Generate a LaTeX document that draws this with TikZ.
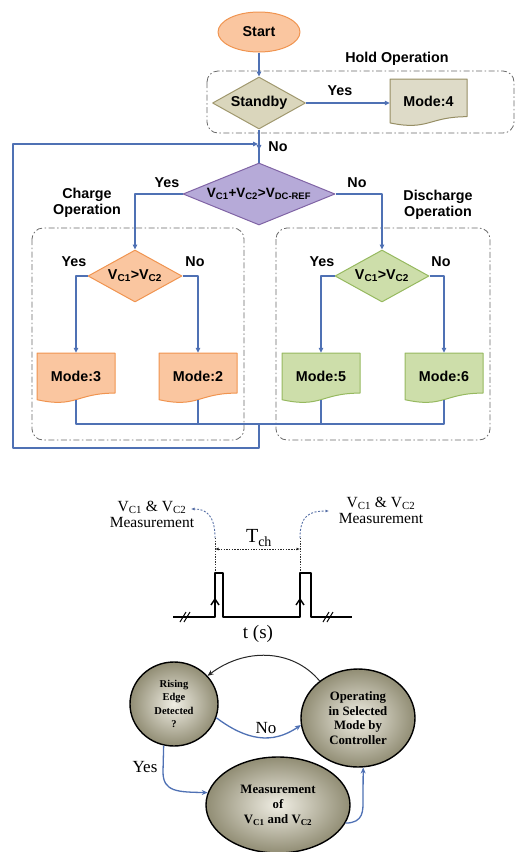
\documentclass[tikz,border=0pt]{standalone}
\usepackage{fontspec}
\setmainfont{Liberation Serif}
\newfontfamily\flowfont{Liberation Sans}
\usetikzlibrary{shapes.geometric,arrows.meta,decorations.markings,calc}

\definecolor{flow}{RGB}{79,113,180}
\definecolor{boxgray}{RGB}{105,105,105}
\definecolor{orfill}{RGB}{250,198,160}
\definecolor{ordraw}{RGB}{240,148,80}
\definecolor{grfill}{RGB}{205,222,170}
\definecolor{grdraw}{RGB}{150,185,95}
\definecolor{pufill}{RGB}{182,170,216}
\definecolor{pudraw}{RGB}{128,100,165}
\definecolor{khfill}{RGB}{218,214,188}
\definecolor{khdraw}{RGB}{160,152,110}
\definecolor{gyfill}{RGB}{222,219,200}
\definecolor{gydraw}{RGB}{150,142,100}
\definecolor{ballin}{RGB}{240,238,228}
\definecolor{ballout}{RGB}{145,141,116}
\definecolor{dashblue}{RGB}{85,110,165}

% document-shaped mode box: name, left, top, width, height, colour style, text
\newcommand{\modedoc}[7]{%
  \path[#6] (#2,#3) -- ({#2+#4},#3) -- ({#2+#4},{#3+0.802*#5})
     .. controls ({#2+0.5*#4},{#3+0.802*#5}) and ({#2+0.5*#4},{#3+1.107*#5})
     .. (#2,{#3+0.934*#5}) -- cycle;
  \node[doctext, minimum width=#4pt, minimum height={0.94*#5pt}]
     (#1) at ({#2+0.5*#4},{#3+0.47*#5}) {#7};
}

\tikzset{
  ftext/.style={font=\flowfont\bfseries\fontsize{14.3}{16}\selectfont},
  lbl/.style={ftext, inner sep=0pt},
  doctext/.style={ftext, inner sep=0pt},
  dia/.style={diamond, ftext, inner sep=0pt, line width=1pt},
  flowline/.style={draw=flow, line width=1.2pt},
  tip/.tip={Triangle[length=5pt,width=4.5pt]},
  opbox/.style={draw=boxgray, line width=0.8pt, rounded corners=11pt,
    dash pattern=on 6pt off 2.5pt on 1.5pt off 2.5pt},
  orangedoc/.style={fill=orfill, draw=ordraw, line width=1pt},
  greendoc/.style={fill=grfill, draw=grdraw, line width=1pt},
  graydoc/.style={fill=gyfill, draw=gydraw, line width=1pt},
  midarrow/.style={postaction={decorate, decoration={markings,
    mark=at position 0.62 with {\arrow{tip}}}}},
  serifA/.style={font=\fontsize{15.5}{16}\selectfont, inner sep=0pt, align=center},
  state/.style={ellipse, draw=black, line width=1.4pt, inner sep=0pt,
    inner color=ballin, outer color=ballout, align=center, font=\bfseries},
  stateline/.style={draw=flow, line width=1.3pt, -{Stealth[length=6pt,width=5pt]}},
}

\begin{document}
\begin{tikzpicture}[x=1pt, y=-1pt, line join=round]
\useasboundingbox (0,0) rectangle (517,852);

% ---------------- operation groups ----------------
\draw[opbox] (207,71) rectangle (514,133);
\draw[opbox] (32,228) rectangle (244,440);
\draw[opbox] (276,228) rectangle (490,440);
\node[lbl] (holdlbl) at (397,59) {Hold Operation};
\node[lbl, align=center] (chglbl) at (87,203) {Charge\\Operation};
\node[lbl, align=center] (dchlbl) at (438,205) {Discharge\\Operation};

% ---------------- flowchart nodes ----------------
\node[ellipse, ftext, inner sep=0pt, minimum width=82pt, minimum height=40pt,
      fill=orfill, draw=ordraw, line width=1pt] (start) at (259,32) {Start};
\node[dia, fill=khfill, draw=khdraw, minimum width=93pt, minimum height=52pt,
      shape aspect=1.8] (sb) at (259,103) {Standby};
\modedoc{m4}{390}{79}{77}{47}{graydoc}{Mode:4}

\node[dia, fill=pufill, draw=pudraw, minimum width=152pt, minimum height=62pt,
      shape aspect=2.45, font=\flowfont\bfseries\fontsize{13.5}{15}\selectfont] (dv) at (259,194)
      {V\textsubscript{C1}+V\textsubscript{C2}>V\textsubscript{DC-REF}};

\node[dia, fill=orfill, draw=ordraw, minimum width=94pt, minimum height=52pt,
      shape aspect=1.8] (d1) at (135,276) {V\textsubscript{C1}>V\textsubscript{C2}};
\node[dia, fill=grfill, draw=grdraw, minimum width=94pt, minimum height=52pt,
      shape aspect=1.8] (d2) at (382,276) {V\textsubscript{C1}>V\textsubscript{C2}};

\modedoc{m3}{37}{353}{78}{50}{orangedoc}{Mode:3}
\modedoc{m2}{159}{353}{78}{50}{orangedoc}{Mode:2}
\modedoc{m5}{282}{353}{78}{50}{greendoc}{Mode:5}
\modedoc{m6}{405}{353}{78}{50}{greendoc}{Mode:6}

% ---------------- flowchart connectors ----------------
\coordinate (jn) at (259,144);
\coordinate (bus) at (259,424);
\coordinate (lp) at (13,448);

\draw[flowline, -tip] (start.south) -- (sb.north);
\draw[flowline, -tip] (sb.east) -- (sb.east -| m4.west);
\draw[flowline, midarrow] (sb.south) -- (dv.north);
\draw[flowline, -tip] (dv.west) -| (d1.north);
\draw[flowline, -tip] (dv.east) -| (d2.north);
\draw[flowline, -tip] (d1.west) -| (m3.north);
\draw[flowline, -tip] (d1.east) -| (m2.north);
\draw[flowline, -tip] (d2.west) -| (m5.north);
\draw[flowline, -tip] (d2.east) -| (m6.north);
\draw[flowline] (m3.south) -- (m3.south |- bus) -- (m6.south |- bus) -- (m6.south);
\draw[flowline] (m2.south) -- (m2.south |- bus);
\draw[flowline] (m5.south) -- (m5.south |- bus);
\draw[flowline, -tip] (bus) |- (lp) |- ([xshift=-1pt]jn);

% branch labels
\node[lbl] (ysb) at (340,91) {Yes};
\node[lbl] (nsb) at (278,147) {No};
\node[lbl] (ydv) at (167,183) {Yes};
\node[lbl] (ndv) at (357,183) {No};
\node[lbl] (yd1) at (74,262) {Yes};
\node[lbl] (nd1) at (195,262) {No};
\node[lbl] (yd2) at (322,262) {Yes};
\node[lbl] (nd2) at (441,262) {No};

% ---------------- sampling pulse train ----------------
\node[serifA] (lmeas) at (152,514.5) {V\textsubscript{C1} \& V\textsubscript{C2}\\Measurement};
\node[serifA] (rmeas) at (381,510) {V\textsubscript{C1} \& V\textsubscript{C2}\\Measurement};
\node[inner sep=0pt, font=\fontsize{20}{21}\selectfont] (tch) at (259,538) {T\textsubscript{ch}};
\node[inner sep=0pt, font=\fontsize{19}{20}\selectfont] (ts) at (258,634) {t (s)};

\coordinate (lt) at (191,509);
\coordinate (rt) at (329,511);
\coordinate (la) at (215,538);
\coordinate (ra) at (300,538);

\draw[dashblue, line width=0.9pt, dash pattern=on 2pt off 1.6pt,
      -{Latex[length=3.5pt,width=3pt]}] (la) .. controls (215,515) and (206,509) .. (lt);
\draw[dashblue, line width=0.9pt, dash pattern=on 2pt off 1.6pt,
      -{Latex[length=3.5pt,width=3pt]}] (ra) .. controls (300,515) and (310,511) .. (rt);
\draw[black!80, line width=0.9pt, dash pattern=on 1.3pt off 1.3pt] (la) -- (215,572);
\draw[black!80, line width=0.9pt, dash pattern=on 1.3pt off 1.3pt] (ra) -- (300,572);
\draw[black!85, line width=0.9pt, dash pattern=on 1.5pt off 1.2pt,
      {Latex[length=3.5pt,width=3pt]}-{Latex[length=3.5pt,width=3pt]}] (215,549) -- (300,549);

\draw[black, line width=1.6pt] (173,617) -- (215,617) -- (215,573) -- (223,573)
   -- (223,617) -- (300,617) -- (300,573) -- (311,573) -- (311,617) -- (352,617);
% rising-edge markers
\draw[black, line width=1.4pt] (211,605) -- (215,599) -- (219,605);
\draw[black, line width=1.4pt] (296,605) -- (300,599) -- (304,605);
% axis breaks
\draw[black, line width=1pt] (180,622) -- (186,612) (184,622) -- (190,612);
\draw[black, line width=1pt] (323,622) -- (329,612) (327,622) -- (333,612);

% ---------------- controller state loop ----------------
\node[state, minimum width=88pt, minimum height=84pt,
      font=\bfseries\fontsize{10.5}{13.5}\selectfont] (rise) at (174,704)
      {Rising\\Edge\\Detected\\?};
\node[state, minimum width=114pt, minimum height=98pt,
      font=\bfseries\fontsize{12.8}{14.5}\selectfont] (oper) at (358,718)
      {Operating\\in Selected\\Mode by\\Controller};
\node[state, minimum width=144pt, minimum height=96pt,
      font=\bfseries\fontsize{12.8}{15}\selectfont] (meas) at (278,805)
      {Measurement\\of\\V\textsubscript{C1} and V\textsubscript{C2}};

\draw[black!85, line width=1pt, -{Stealth[length=6pt,width=5pt]}]
   (oper.136) .. controls (292,648) and (244,648) .. (rise.40);
\draw[stateline] (rise.-18) .. controls (246,740) and (272,745) .. (oper.187);
\draw[stateline] (rise.-104) -- (163,772) .. controls (163,792) and (178,792) .. (meas.170);
\draw[stateline] (meas.-15) .. controls (364,823) and (363,810) .. (363,800) -- (oper.-84);

\node[inner sep=0pt, font=\fontsize{17}{18}\selectfont] (nolbl) at (266,728) {No};
\node[inner sep=0pt, font=\fontsize{17}{18}\selectfont] (yeslbl) at (145,767) {Yes};
\end{tikzpicture}
\end{document}
